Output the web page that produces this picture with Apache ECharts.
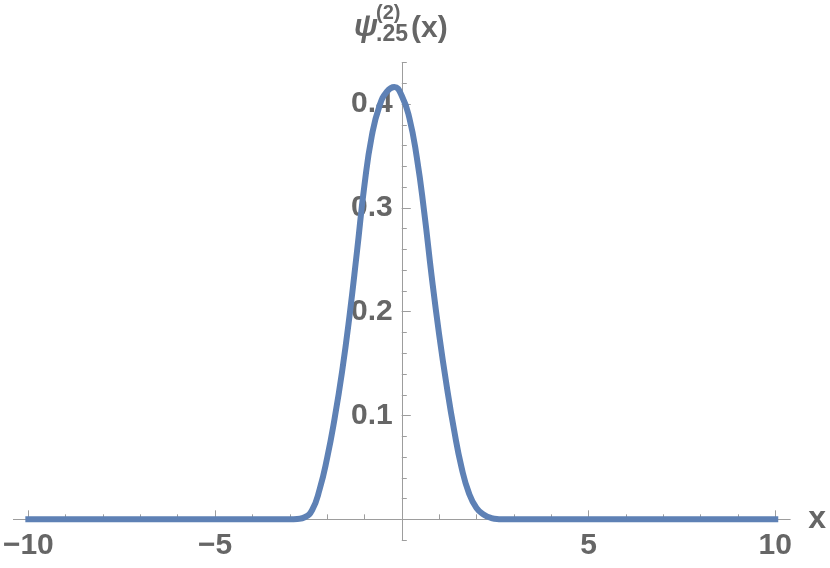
<!DOCTYPE html>
<html><head><meta charset="utf-8">
<script src="https://cdn.jsdelivr.net/npm/echarts@6/dist/echarts.min.js"></script>
<style>html,body{margin:0;padding:0;background:#fff}#c{width:830px;height:568px}</style>
</head><body><div id="c"></div>
<script>
// Curve samples
const curveX = [-10, -9, -8, -7, -6, -5, -4, -3.4, -3.2, -3.0, -2.8, -2.6, -2.4, -2.2, -2.0, -1.8, -1.6, -1.4, -1.2, -1.0, -0.8, -0.6, -0.4, -0.2, 0.0, 0.2, 0.4, 0.6, 0.8, 1.0, 1.2, 1.4, 1.6, 1.8, 2.0, 2.2, 2.4, 2.6, 2.8, 3.0, 3.2, 4, 5, 6, 7, 8, 9, 10];
const curveY = [0, 0, 0, 0, 0, 0, 0, 0, 0, 0, 0.0004, 0.002, 0.009, 0.029, 0.059, 0.097, 0.142, 0.196, 0.258, 0.322, 0.370, 0.398, 0.412, 0.4165, 0.408, 0.387, 0.349, 0.296, 0.234, 0.178, 0.129, 0.086, 0.050, 0.025, 0.011, 0.0045, 0.0012, 0.0002, 0, 0, 0, 0, 0, 0, 0, 0, 0, 0];
const xTickLabels = [-10, -5, 5, 10];
const yTickLabels = [0.1, 0.2, 0.3, 0.4];
const xRange = [-10.4, 10.4];
const yRange = [-0.02, 0.44];

const PLOT = {left: 13.4, right: 790.2, top: 62.6, bottom: 540.1};
const px = x => PLOT.left + (x - xRange[0]) / (xRange[1] - xRange[0]) * (PLOT.right - PLOT.left);
const py = y => PLOT.bottom - (y - yRange[0]) / (yRange[1] - yRange[0]) * (PLOT.bottom - PLOT.top);

const AX = '#9d9d9d', LBL = '#666666', FONT = 'Liberation Sans';
const lblStyle = {color: LBL, fontSize: 30, fontWeight: 'bold', fontFamily: FONT};
const fmtNum = v => (v < 0 ? '\u2212' + Math.abs(v) : String(v));

const y0 = py(0), x0 = px(0);
const grids = [
  {left: PLOT.left, top: PLOT.top, width: PLOT.right - PLOT.left, height: PLOT.bottom - PLOT.top},
  {left: px(-10), top: y0 - 50, width: px(10) - px(-10), height: 50},
  {left: px(-10), top: y0 - 50, width: px(10) - px(-10), height: 50},
  {left: PLOT.left, top: y0 - 50, width: PLOT.right - PLOT.left, height: 50},
  {left: x0, top: PLOT.top, width: 50, height: PLOT.bottom - PLOT.top},
  {left: x0, top: py(0.4), width: 50, height: y0 - py(0.4)}
].map(g => Object.assign({outerBoundsMode: 'none', containLabel: false}, g));

const hiddenX = i => ({type: 'value', gridIndex: i, min: 0, max: 1, show: false, axisLine: {onZero: false}});
const hiddenY = i => ({type: 'value', gridIndex: i, min: 0, max: 1, show: false, axisLine: {onZero: false}});

const xAxes = [
  {type: 'value', gridIndex: 0, min: xRange[0], max: xRange[1], show: false, axisLine: {onZero: false}},
  {type: 'value', gridIndex: 1, min: -10, max: 10, interval: 1, position: 'bottom',
   axisLine: {show: false, onZero: false}, axisTick: {show: true, inside: true, length: 5, lineStyle: {color: AX, width: 1}},
   axisLabel: {show: false}, splitLine: {show: false}},
  {type: 'value', gridIndex: 2, min: -10, max: 10, interval: 5, position: 'bottom',
   axisLine: {show: false, onZero: false}, axisTick: {show: true, inside: true, length: 9, lineStyle: {color: AX, width: 1}},
   axisLabel: Object.assign({show: true, margin: 11, hideOverlap: false,
     formatter: v => (xTickLabels.indexOf(v) >= 0 ? fmtNum(v) : '')}, lblStyle),
   splitLine: {show: false}},
  {type: 'value', gridIndex: 3, min: xRange[0], max: xRange[1], position: 'bottom',
   axisLine: {show: true, onZero: false, lineStyle: {color: AX, width: 1}}, axisTick: {show: false},
   axisLabel: {show: false}, splitLine: {show: false},
   name: 'x', nameLocation: 'end', nameGap: 18,
   nameTextStyle: Object.assign({}, lblStyle, {fontSize: 32, padding: [4, 0, 0, 0]})},
  hiddenX(4), hiddenX(5)
];
const yAxes = [
  {type: 'value', gridIndex: 0, min: yRange[0], max: yRange[1], show: false, axisLine: {onZero: false}},
  hiddenY(1), hiddenY(2), hiddenY(3),
  {type: 'value', gridIndex: 4, min: yRange[0], max: yRange[1], interval: 0.02, position: 'left',
   axisLine: {show: true, onZero: false, lineStyle: {color: AX, width: 1}},
   axisTick: {show: true, inside: true, length: 5, lineStyle: {color: AX, width: 1}},
   axisLabel: {show: false}, splitLine: {show: false}},
  {type: 'value', gridIndex: 5, min: 0, max: 0.4, interval: 0.1, position: 'left',
   axisLine: {show: false, onZero: false},
   axisTick: {show: true, inside: true, length: 9, lineStyle: {color: AX, width: 1}},
   axisLabel: Object.assign({show: true, margin: 9, hideOverlap: false,
     formatter: v => { const r = Math.round(v * 10) / 10; return yTickLabels.indexOf(r) >= 0 ? r.toFixed(1) : ''; }}, lblStyle),
   splitLine: {show: false}}
];

const titleFill = LBL;
const option = {
  animation: false,
  backgroundColor: '#ffffff',
  grid: grids,
  xAxis: xAxes,
  yAxis: yAxes,
  series: [{
    type: 'line', xAxisIndex: 0, yAxisIndex: 0, z: 10,
    data: curveX.map((x, i) => [x, curveY[i]]),
    showSymbol: false, symbol: 'none', smooth: 0.5,
    lineStyle: {color: '#5E81B5', width: 6, cap: 'square', join: 'round'}
  }],
  graphic: [
    {type: 'text', x: 354, y: 27, style: {text: '\u03C8', fill: titleFill, fontSize: 31, fontStyle: 'italic', fontWeight: 'bold', fontFamily: FONT, verticalAlign: 'middle', align: 'left'}},
    {type: 'text', x: 376, y: 13.5, style: {text: '(2)', fill: titleFill, fontSize: 20, fontWeight: 'bold', fontFamily: FONT, verticalAlign: 'middle', align: 'left'}},
    {type: 'text', x: 376, y: 35, style: {text: '.25', fill: titleFill, fontSize: 23, fontWeight: 'bold', fontFamily: FONT, verticalAlign: 'middle', align: 'left'}},
    {type: 'text', x: 411, y: 29, style: {text: '(x)', fill: titleFill, fontSize: 30, fontWeight: 'bold', fontFamily: FONT, verticalAlign: 'middle', align: 'left'}}
  ]
};
const chart = echarts.init(document.getElementById('c'), null, {renderer: 'canvas'});
chart.setOption(option);
</script></body></html>
